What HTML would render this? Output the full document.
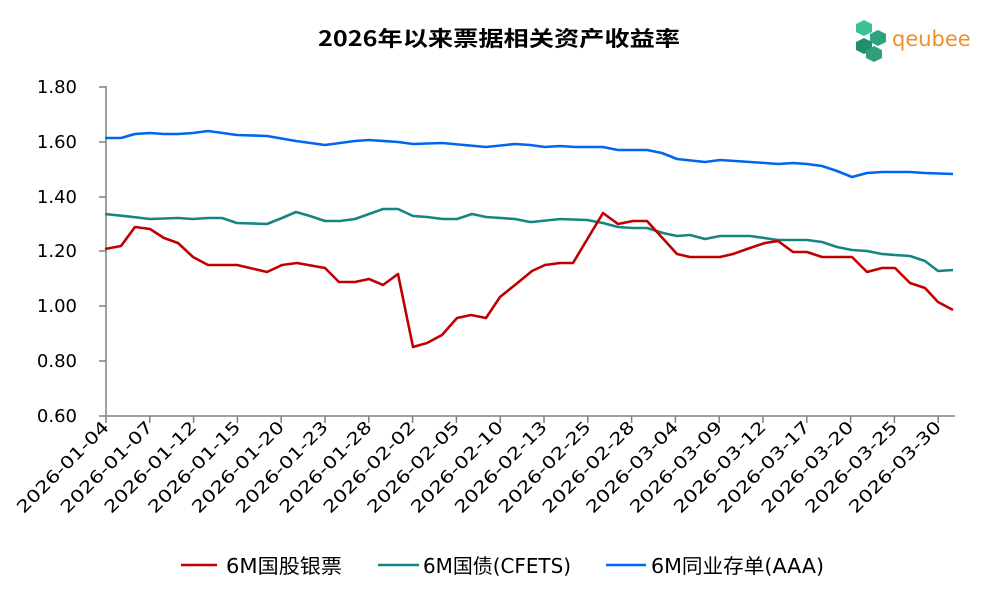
<!DOCTYPE html>
<html><head><meta charset="utf-8"><style>
html,body{margin:0;padding:0;background:#fff;}
svg{display:block;font-family:"DejaVu Sans","Noto Sans CJK SC",sans-serif;}
</style></head><body>
<svg width="997" height="598" viewBox="0 0 997 598" xmlns="http://www.w3.org/2000/svg">
<text x="318" y="46" font-size="21" font-weight="bold" fill="#000" textLength="362" lengthAdjust="spacingAndGlyphs" font-family="Noto Sans CJK SC, sans-serif">2026年以来票据相关资产收益率</text>
<g transform="translate(856,20)">
<polygon points="8,0 16,4 16,12 8,16 0,12 0,4" fill="#3dbf9a"/>
<polygon points="22,10 30,14 30,22 22,26 14,22 14,14" fill="#2aa57f"/>
<polygon points="8,18 16,22 16,30 8,34 0,30 0,22" fill="#1f8f70"/>
<polygon points="18,26 26,30 26,38 18,42 10,38 10,30" fill="#2f9f7c"/>
</g>
<text x="892" y="46" font-size="21" fill="#f0902a">qeubee</text>
<g font-size="18" fill="#000" text-anchor="end">
<text x="77" y="93">1.80</text>
<text x="77" y="148">1.60</text>
<text x="77" y="203">1.40</text>
<text x="77" y="257">1.20</text>
<text x="77" y="312">1.00</text>
<text x="77" y="367">0.80</text>
<text x="77" y="422">0.60</text>
</g>
<g stroke="#808080" stroke-width="1.5" fill="none">
<line x1="106" y1="86" x2="106" y2="416"/>
<line x1="99" y1="87" x2="106" y2="87"/>
<line x1="99" y1="142" x2="106" y2="142"/>
<line x1="99" y1="197" x2="106" y2="197"/>
<line x1="99" y1="251" x2="106" y2="251"/>
<line x1="99" y1="306" x2="106" y2="306"/>
<line x1="99" y1="361" x2="106" y2="361"/>
<line x1="99" y1="416" x2="955" y2="416"/>
<path d="M106,416v7M149.8,416v7M193.6,416v7M237.4,416v7M281.2,416v7M325,416v7M368.8,416v7M412.6,416v7M456.4,416v7M500.2,416v7M544,416v7M587.8,416v7M631.6,416v7M675.4,416v7M719.2,416v7M763,416v7M806.8,416v7M850.6,416v7M894.4,416v7M938.2,416v7"/>
</g>
<g font-size="17" fill="#000" text-anchor="end">
<text transform="translate(110,428) rotate(-45)" textLength="122" lengthAdjust="spacingAndGlyphs">2026-01-04</text>
<text transform="translate(153.8,428) rotate(-45)" textLength="122" lengthAdjust="spacingAndGlyphs">2026-01-07</text>
<text transform="translate(197.6,428) rotate(-45)" textLength="122" lengthAdjust="spacingAndGlyphs">2026-01-12</text>
<text transform="translate(241.4,428) rotate(-45)" textLength="122" lengthAdjust="spacingAndGlyphs">2026-01-15</text>
<text transform="translate(285.2,428) rotate(-45)" textLength="122" lengthAdjust="spacingAndGlyphs">2026-01-20</text>
<text transform="translate(329,428) rotate(-45)" textLength="122" lengthAdjust="spacingAndGlyphs">2026-01-23</text>
<text transform="translate(372.8,428) rotate(-45)" textLength="122" lengthAdjust="spacingAndGlyphs">2026-01-28</text>
<text transform="translate(416.6,428) rotate(-45)" textLength="122" lengthAdjust="spacingAndGlyphs">2026-02-02</text>
<text transform="translate(460.4,428) rotate(-45)" textLength="122" lengthAdjust="spacingAndGlyphs">2026-02-05</text>
<text transform="translate(504.2,428) rotate(-45)" textLength="122" lengthAdjust="spacingAndGlyphs">2026-02-10</text>
<text transform="translate(548,428) rotate(-45)" textLength="122" lengthAdjust="spacingAndGlyphs">2026-02-13</text>
<text transform="translate(591.8,428) rotate(-45)" textLength="122" lengthAdjust="spacingAndGlyphs">2026-02-25</text>
<text transform="translate(635.6,428) rotate(-45)" textLength="122" lengthAdjust="spacingAndGlyphs">2026-02-28</text>
<text transform="translate(679.4,428) rotate(-45)" textLength="122" lengthAdjust="spacingAndGlyphs">2026-03-04</text>
<text transform="translate(723.2,428) rotate(-45)" textLength="122" lengthAdjust="spacingAndGlyphs">2026-03-09</text>
<text transform="translate(767,428) rotate(-45)" textLength="122" lengthAdjust="spacingAndGlyphs">2026-03-12</text>
<text transform="translate(810.8,428) rotate(-45)" textLength="122" lengthAdjust="spacingAndGlyphs">2026-03-17</text>
<text transform="translate(854.6,428) rotate(-45)" textLength="122" lengthAdjust="spacingAndGlyphs">2026-03-20</text>
<text transform="translate(898.4,428) rotate(-45)" textLength="122" lengthAdjust="spacingAndGlyphs">2026-03-25</text>
<text transform="translate(942.2,428) rotate(-45)" textLength="122" lengthAdjust="spacingAndGlyphs">2026-03-30</text>
</g>
<polyline fill="none" stroke="#0066ee" stroke-width="2.6" stroke-linejoin="round" points="105,138 121,138 135,134 150,133 164,134 178,134 193,133 208,131 237,135 267,136 296,141 325,145 355,141 369,140 398,142 413,144 442,143 486,147 515,144 530,145 545,147 560,146 575,147 603,147 618,150 647,150 662,153 677,159 705,162 720,160 750,162 765,163 778,164 793,163 807,164 822,166 837,171 852,177 867,173 882,172 910,172 925,173 953,174"/>
<polyline fill="none" stroke="#168582" stroke-width="2.6" stroke-linejoin="round" points="105,214 133,217 150,219 178,218 193,219 208,218 222,218 237,223 267,224 282,218 296,212 310,216 325,221 340,221 355,219 369,214 383,209 398,209 413,216 427,217 443,219 457,219 472,214 486,217 515,219 530,222 532,222 560,219 587,220 603,223 618,227 633,228 647,228 663,233 677,236 690,235 705,239 720,236 750,236 778,240 807,240 822,242 837,247 852,250 867,251 882,254 895,255 910,256 925,261 938,271 953,270"/>
<polyline fill="none" stroke="#c00000" stroke-width="2.6" stroke-linejoin="round" points="105,249 121,246 135,227 150,229 164,238 178,243 193,257 208,265 237,265 267,272 282,265 297,263 325,268 339,282 355,282 369,279 383,285 398,274 413,347 427,343 442,335 457,318 471,315 486,318 500,297 515,285 532,271 545,265 560,263 573,263 603,213 618,224 633,221 647,221 677,254 690,257 720,257 733,254 750,248 765,243 778,241 793,252 807,252 822,257 852,257 867,272 882,268 895,268 910,283 925,288 938,302 953,310"/>
<line x1="181" y1="565" x2="217" y2="565" stroke="#c00000" stroke-width="2.6"/>
<text x="226" y="573" font-size="20" fill="#000" textLength="116" lengthAdjust="spacingAndGlyphs">6M国股银票</text>
<line x1="378" y1="565" x2="419" y2="565" stroke="#168582" stroke-width="2.6"/>
<text x="423" y="573" font-size="20" fill="#000" textLength="148" lengthAdjust="spacingAndGlyphs">6M国债(CFETS)</text>
<line x1="606" y1="565" x2="646" y2="565" stroke="#0066ee" stroke-width="2.6"/>
<text x="651" y="573" font-size="20" fill="#000" textLength="173" lengthAdjust="spacingAndGlyphs">6M同业存单(AAA)</text>
</svg>
</body></html>
